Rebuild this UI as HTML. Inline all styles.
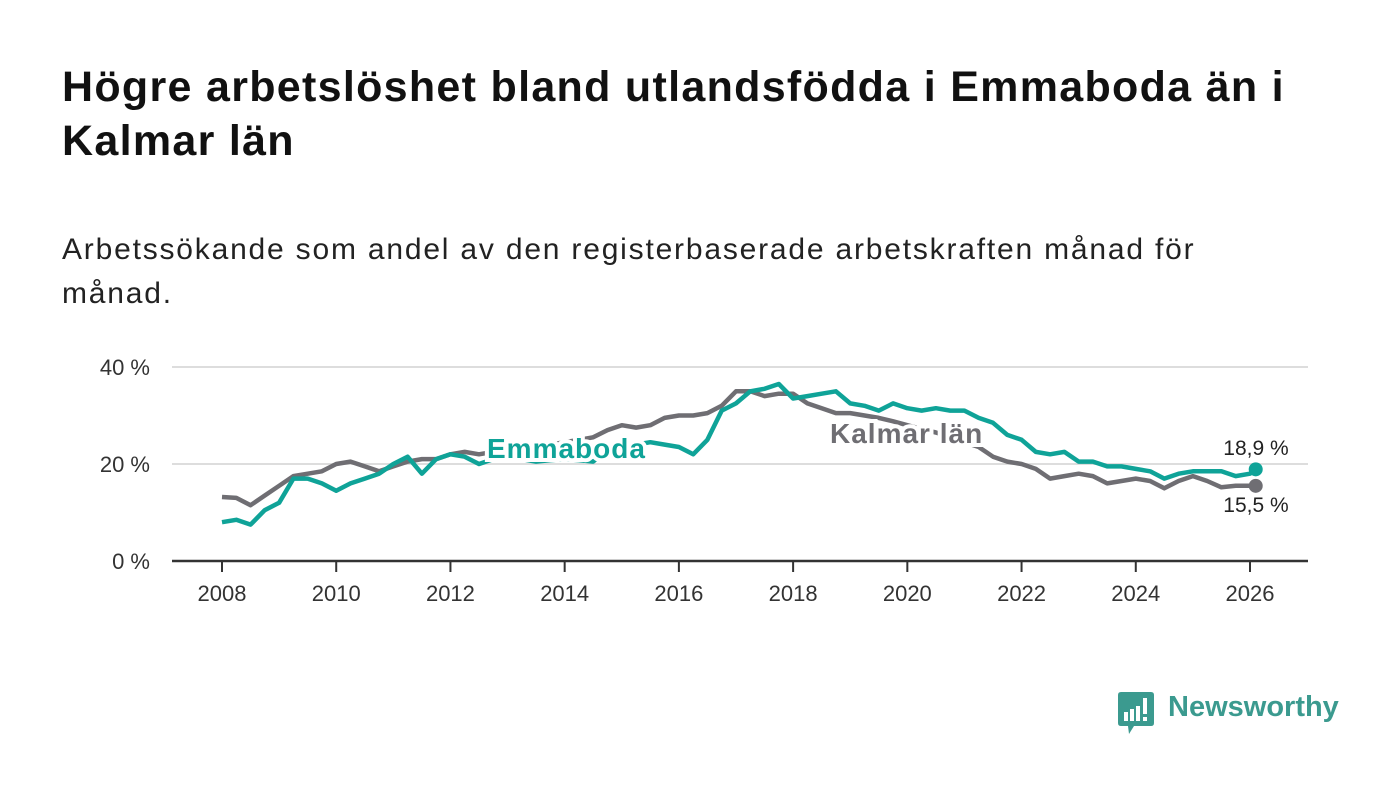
<!DOCTYPE html>
<html><head><meta charset="utf-8"><style>
body{margin:0;width:1400px;height:794px;background:#fff;font-family:"Liberation Sans",sans-serif;overflow:hidden;position:relative}
h1{position:absolute;left:62px;top:60px;margin:0;font-size:43px;line-height:54px;font-weight:bold;color:#111;width:1290px;letter-spacing:1.3px}
.sub{position:absolute;left:62px;top:228px;font-size:30px;line-height:44px;color:#222;width:1200px;letter-spacing:1.8px}
svg{position:absolute;left:0;top:0}
</style></head><body>
<h1>Högre arbetslöshet bland utlandsfödda i Emmaboda än i Kalmar län</h1>
<div class="sub">Arbetssökande som andel av den registerbaserade arbetskraften månad för månad.</div>
<svg id="chart" width="1400" height="794"></svg>
<div style="position:absolute;left:1118px;top:690px;height:44px">
<svg width="36" height="44" style="position:absolute;left:0;top:2px"><path d="M3 0H33Q36 0 36 3V31Q36 34 33 34H16L11 42L10 34H3Q0 34 0 31V3Q0 0 3 0Z" fill="#3b9a8f"/><rect x="6" y="20" width="4" height="9" fill="#fff"/><rect x="12" y="17" width="4" height="12" fill="#fff"/><rect x="18" y="14" width="4" height="15" fill="#fff"/><rect x="25" y="6" width="4" height="16" fill="#fff"/><rect x="25" y="25" width="4" height="4" fill="#fff"/></svg>
<span style="position:absolute;left:50px;top:1px;font-size:29px;color:#3b9a8f;font-weight:bold;white-space:nowrap">Newsworthy</span></div>
<script>
const years=[];for(let i=0;i<=72;i++)years.push(2008+i*0.25);years.push(2026.1);
const kalmar=[13.2,13,11.5,13.5,15.5,17.5,18,18.5,20,20.5,19.5,18.5,19.5,20.5,21,21,22,22.5,22,22.5,23,23.2,23.5,24,24.5,25,25.5,27,28,27.5,28,29.5,30,30,30.5,32,35,35,34,34.5,34.5,32.5,31.5,30.5,30.5,30,29.5,28.8,28,27.2,26.5,25.5,24.5,23.5,21.5,20.5,20,19,17,17.5,18,17.5,16,16.5,17,16.5,15,16.5,17.5,16.5,15.2,15.5,15.5,15.5];
const emmaboda=[8,8.5,7.5,10.5,12,17,17,16,14.5,16,17,18,20,21.5,18,21,22,21.5,20,21,21.5,21,20.5,20.8,21,20.8,20.5,23,23,24,24.5,24,23.5,22,25,31,32.5,35,35.5,36.5,33.5,34,34.5,35,32.5,32,31,32.5,31.5,31,31.5,31,31,29.5,28.5,26,25,22.5,22,22.5,20.5,20.5,19.5,19.5,19,18.5,17,18,18.5,18.5,18.5,17.5,18,18.9];
const yTicks=[0,20,40];const xTicks=[2008,2010,2012,2014,2016,2018,2020,2022,2024,2026];
const X=v=>222+(v-2008)*(1028/18), Y=v=>561-v*4.85;
const svg=document.getElementById('chart'),NS='http://www.w3.org/2000/svg';
function el(t,a,txt){const e=document.createElementNS(NS,t);for(const k in a)e.setAttribute(k,a[k]);if(txt!==undefined)e.textContent=txt;svg.appendChild(e);return e;}
yTicks.forEach(t=>{
const g=el('line',{x1:172,x2:1308,y1:Y(t),y2:Y(t),stroke:t?'#ddd':'#333','stroke-width':t?2:2.5});


const l=el('text',{x:150,y:Y(t)+8,'text-anchor':'end','font-size':22,fill:'#333'},t+' %');

});
xTicks.forEach(t=>{
const k=el('line',{x1:X(t),x2:X(t),y1:561,y2:572,stroke:'#333','stroke-width':2});


const l=el('text',{x:X(t),y:601,'text-anchor':'middle','font-size':22,fill:'#333'},t);

});
function line(vals,col,name){const d=vals.map((v,i)=>(i?'L':'M')+X(years[i]).toFixed(1)+' '+Y(v).toFixed(1)).join('');
const p=el('path',{d:d,fill:'none',stroke:col,'stroke-width':4.5,'stroke-linejoin':'round'});


const n=vals.length-1;const c=el('circle',{cx:X(years[n]),cy:Y(vals[n]),r:7,fill:col});

}
line(kalmar,'#6f6e73','kalmar-line');line(emmaboda,'#0fa398','emmaboda-line');
function lab(x,y,t,col,name,size,w,anchor,ls){const e=el('text',{x:x,y:y,'font-size':size,'font-weight':w,fill:col,stroke:'#fff','stroke-width':size>24?8:5,'paint-order':'stroke','text-anchor':anchor||'start','letter-spacing':ls||0},t);

}
lab(487,458,'Emmaboda','#0fa398','emmaboda-label',28,'bold','start',1);
lab(830,443,'Kalmar län','#6f6e73','kalmar-label',28,'bold','start',1);
lab(1256,455,'18,9 %','#222','emmaboda-value-label',21,'normal','middle');
lab(1256,512,'15,5 %','#222','kalmar-value-label',21,'normal','middle');
</script>
</body></html>
